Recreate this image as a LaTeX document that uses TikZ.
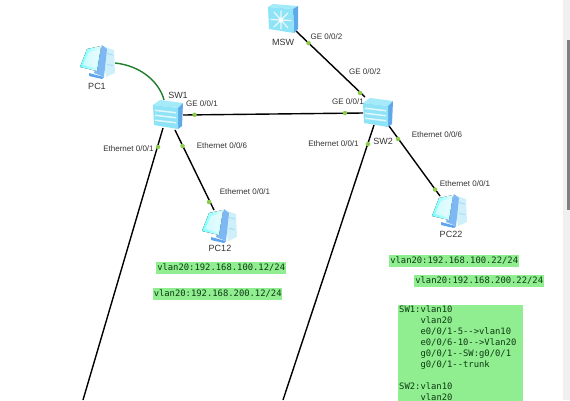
\documentclass[tikz,border=0pt]{standalone}
\usepackage{fontspec}
\setmainfont{Liberation Sans}
\setmonofont{DejaVu Sans Mono}
\definecolor{dotgreen}{HTML}{8CCB4A}
\definecolor{boxgreen}{HTML}{90EE90}
\definecolor{linkgreen}{HTML}{1E7F2A}
\definecolor{labelgray}{HTML}{333333}
\definecolor{codegreen}{HTML}{0C3A12}
\definecolor{panelpale}{HTML}{CFEFFA}
\definecolor{panelmark}{HTML}{A8DDF2}
\definecolor{towerblue}{HTML}{7DB8F5}
\definecolor{baseblue}{HTML}{5FA5EE}
\definecolor{cubetop}{HTML}{A5EAF8}
\definecolor{cubefront}{HTML}{8FE3F6}
\definecolor{cubeside}{HTML}{5FA8EA}
\tikzset{
  iconbox/.style={inner sep=0pt,anchor=north west},
  link/.style={draw=black,line width=1.4pt},
  greenlink/.style={draw=linkgreen,line width=1.4pt},
  portdot/.style={circle,fill=dotgreen,inner sep=0pt,minimum size=4.5pt},
  portlabel/.style={font=\fontsize{8}{9}\selectfont,text=labelgray,inner sep=0pt},
  devlabel/.style={font=\fontsize{9}{10}\selectfont,text=labelgray,inner sep=0pt},
  ipbox/.style={font=\ttfamily\fontsize{8.85}{10}\selectfont,text=codegreen,fill=boxgreen,inner sep=0pt,anchor=north west,text height=8.5pt,text depth=3pt,align=center},
  pcicon/.pic={
    \fill[panelpale] (22,2) -- (34,6) -- (35,29) -- (26,33) -- cycle;
    \fill[panelmark] (27,9) -- (33,10.5) -- (33,11.5) -- (27,10) -- cycle;
    \fill[panelmark] (27,20) -- (33,21) -- (33,22) -- (27,21) -- cycle;
    \fill[towerblue] (22,1) -- (27,5) -- (24,33) -- (14,29) -- cycle;
    \fill[baseblue] (9,29) -- (20,32) -- (24,33) -- (22,35) -- (9,32) -- cycle;
    \fill[left color=cyan!55!white,right color=cyan!10!white] (7,5) -- (21,2) -- (17,27) -- (0,23) -- cycle;
    \fill[cyan!6!white,opacity=.7] (9,8) -- (19,5.5) -- (15.5,24) -- (3,21) -- cycle;
  },
  switchicon/.pic={
    \fill[cubetop] (0,5) -- (7,0) -- (30,3) -- (25,8) -- cycle;
    \fill[cubeside] (25,8) -- (30,3) -- (29,26) -- (25,29) -- cycle;
    \fill[cubefront] (0,5) -- (25,8) -- (25,29) -- (1,25) -- cycle;
    \foreach \yy in {0,5,10}{
      \fill[white,opacity=.75] (2,{9.5+\yy}) -- (23,{12+\yy}) -- (23,{13.5+\yy}) -- (2,{11+\yy}) -- cycle;
    }
  },
  coreicon/.pic={
    \fill[cubetop] (0,3) -- (5,0) -- (30,2) -- (25,5) -- cycle;
    \fill[cubeside] (25,5) -- (30,2) -- (30,25) -- (26,29) -- cycle;
    \fill[cubefront] (0,3) -- (25,5) -- (26,29) -- (1,25) -- cycle;
    \draw[white,line width=1.2pt,line cap=round,opacity=.8]
      (6,8) -- (20,24) (20,9) -- (6,23) (13,7) -- (13,25) (3,15.5) -- (23,16.5);
    \fill[white,opacity=.9] (13,16) circle (2.5);
  }
}
\begin{document}
\begin{tikzpicture}[x=1pt,y=-1pt]
\useasboundingbox (0,0) rectangle (570,400);
\clip (0,0) rectangle (570,400);
\fill[white] (0,0) rectangle (570,400);
% scrollbar
\fill[black!6] (563,0) rectangle (570,400);
\fill[black!50] (567,40) rectangle (570,210);
% device footprints
\node[iconbox,minimum width=35pt,minimum height=34pt] (pc1) at (80,44) {};
\node[iconbox,minimum width=30pt,minimum height=29pt] (sw1) at (153,100) {};
\node[iconbox,minimum width=30pt,minimum height=29pt] (sw2) at (363,98) {};
\node[iconbox,minimum width=30pt,minimum height=29pt] (msw) at (268,4) {};
\node[iconbox,minimum width=35pt,minimum height=34pt] (pc12) at (202,208) {};
\node[iconbox,minimum width=35pt,minimum height=34pt] (pc22) at (432,193) {};
% connector ends
\coordinate (pc1r) at (115,63);
\coordinate (sw1t) at (164,100);
\coordinate (sw1r) at (183,115);
\coordinate (sw1bl) at (163,128);
\coordinate (sw1br) at (175,130);
\coordinate (sw2l) at (363,113);
\coordinate (sw2t) at (365,97);
\coordinate (sw2bl) at (374,125);
\coordinate (sw2br) at (389,126);
\coordinate (mswb) at (296,31);
\coordinate (pc12t) at (214,210);
\coordinate (pc22t) at (440,196);
\coordinate (offa) at (83,400);
\coordinate (offb) at (283,400);
% connectors
\draw[greenlink] (pc1r) .. controls (143,66) and (160,84) .. (sw1t);
\draw[link] (sw1r) -- (sw2l);
\draw[link] (mswb) -- (sw2t);
\draw[link] (sw1bl) -- (offa);
\draw[link] (sw1br) -- (pc12t);
\draw[link] (sw2bl) -- (offb);
\draw[link] (sw2br) -- (pc22t);
% icons
\pic at (80,44) {pcicon};
\pic at (202,208) {pcicon};
\pic at (432,193) {pcicon};
\pic at (153,100) {switchicon};
\pic at (363,98) {switchicon};
\pic at (268,4) {coreicon};
% port dots
\node[portdot] (d1) at (194.5,114.8) {};
\node[portdot] (d2) at (345,113) {};
\node[portdot] (d3) at (308.5,43) {};
\node[portdot] (d4) at (360,93) {};
\node[portdot] (d5) at (158,147) {};
\node[portdot] (d6) at (182.5,146) {};
\node[portdot] (d7) at (368,144) {};
\node[portdot] (d8) at (398,139) {};
\node[portdot] (d9) at (435,189.5) {};
\node[portdot] (d10) at (209,202) {};
% device labels
\node[devlabel] (lpc1) at (97,86) {PC1};
\node[devlabel] (lsw1) at (178,95) {SW1};
\node[devlabel] (lmsw) at (283,42.5) {MSW};
\node[devlabel] (lsw2) at (383,141) {SW2};
\node[devlabel] (lpc12) at (220,248.5) {PC12};
\node[devlabel] (lpc22) at (451,234.5) {PC22};
% port labels
\node[portlabel] (p1) at (202,104) {GE 0/0/1};
\node[portlabel] (p2) at (128.5,149) {Ethernet 0/0/1};
\node[portlabel] (p3) at (222,145.5) {Ethernet 0/0/6};
\node[portlabel] (p4) at (326.5,37) {GE 0/0/2};
\node[portlabel] (p5) at (365,72) {GE 0/0/2};
\node[portlabel] (p6) at (348,102) {GE 0/0/1};
\node[portlabel] (p7) at (333.5,144) {Ethernet 0/0/1};
\node[portlabel] (p8) at (437,135) {Ethernet 0/0/6};
\node[portlabel] (p9) at (465,184) {Ethernet 0/0/1};
\node[portlabel] (p10) at (245,192) {Ethernet 0/0/1};
% address boxes
\node[ipbox,minimum width=130pt] (ip1) at (156,262) {vlan20:192.168.100.12/24};
\node[ipbox,minimum width=129pt] (ip2) at (153,288) {vlan20:192.168.200.12/24};
\node[ipbox,minimum width=130pt] (ip3) at (389,255) {vlan20:192.168.100.22/24};
\node[ipbox,minimum width=130pt] (ip4) at (414,275) {vlan20:192.168.200.22/24};
\node[fill=boxgreen,anchor=north west,inner sep=0pt,minimum width=125pt,minimum height=110pt] (cfgbg) at (398,305) {};
\node[anchor=north west,inner sep=0pt,align=left,text=codegreen,font=\ttfamily\fontsize{8.85}{11}\selectfont] (cfg) at (399,306) {SW1:vlan10\\
\phantom{SW1:}vlan20\\
\phantom{SW1:}e0/0/1-5-->vlan10\\
\phantom{SW1:}e0/0/6-10-->Vlan20\\
\phantom{SW1:}g0/0/1--SW:g0/0/1\\
\phantom{SW1:}g0/0/1--trunk\\
\strut\\
SW2:vlan10\\
\phantom{SW2:}vlan20};
\end{tikzpicture}
\end{document}
